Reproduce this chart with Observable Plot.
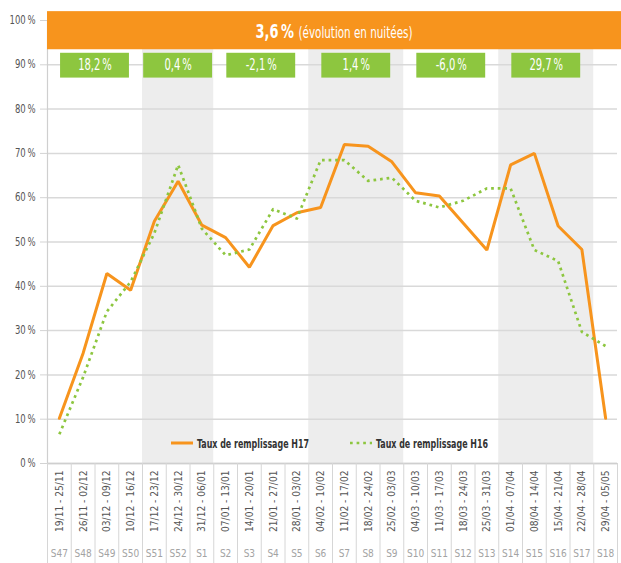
<!DOCTYPE html>
<html>
<head>
<meta charset="utf-8">
<script src="https://cdn.jsdelivr.net/npm/d3@7"></script>
<script src="https://cdn.jsdelivr.net/npm/@observablehq/plot@0.6"></script>
<style>
  body { margin: 0; background: #fff; }
  #chart { position: relative; width: 621px; height: 563px; }
</style>
</head>
<body>
<div id="chart"></div>
<script>
// ---- data ----
const dates = ["19/11 - 25/11", "26/11 - 02/12", "03/12 - 09/12", "10/12 - 16/12", "17/12 - 23/12", "24/12 - 30/12",
  "31/12 - 06/01", "07/01 - 13/01", "14/01 - 20/01", "21/01 - 27/01", "28/01 - 03/02", "04/02 - 10/02",
  "11/02 - 17/02", "18/02 - 24/02", "25/02 - 03/03", "04/03 - 10/03", "11/03 - 17/03", "18/03 - 24/03",
  "25/03 - 31/03", "01/04 - 07/04", "08/04 - 14/04", "15/04 - 21/04", "22/04 - 28/04", "29/04 - 05/05"];
const weeks = ["S47", "S48", "S49", "S50", "S51", "S52", "S1", "S2", "S3", "S4", "S5", "S6",
  "S7", "S8", "S9", "S10", "S11", "S12", "S13", "S14", "S15", "S16", "S17", "S18"];
const h17 = [10.2, 24.9, 42.9, 39.1, 54.7, 63.7, 53.8, 51.0, 44.3, 53.7, 56.6, 57.8,
  72.0, 71.6, 68.1, 61.1, 60.4, 54.3, 48.2, 67.4, 70.0, 53.6, 48.3, 10.2];
const h16 = [6.6, 19.5, 34.3, 41.0, 52.0, 67.4, 53.0, 47.0, 48.3, 57.4, 55.3, 68.5,
  68.5, 63.8, 64.5, 59.3, 57.8, 59.3, 62.1, 62.1, 48.2, 45.7, 29.7, 26.5];
const groupLabels = ["18,2\u2009%", "0,4\u2009%", "-2,1\u2009%", "1,4\u2009%", "-6,0\u2009%", "29,7\u2009%"];
const groupStart = ["S47", "S51", "S2", "S6", "S10", "S14"];
const groupEnd = ["S50", "S1", "S5", "S9", "S13", "S17"];
const totalLabel = "3,6\u2009%";
const totalNote = "(évolution en nuitées)";
const yTicks = [0, 10, 20, 30, 40, 50, 60, 70, 80, 90, 100];
const seriesNames = ["Taux de remplissage H17", "Taux de remplissage H16"];

// ---- build ----
const ORANGE = "#f7941d", GREEN = "#8dc63f";
const idx = d3.range(dates.length);
const bounds = d3.range(dates.length + 1).map(i => i - 0.5);
const rows = idx.map(i => ({i, h17: h17[i], h16: h16[i]}));
const groups = groupLabels.map((label, k) => {
  const a = weeks.indexOf(groupStart[k]), b = weeks.indexOf(groupEnd[k]);
  return {label, a, b, mid: (a + b) / 2, shaded: k % 2 === 1};
});
const font = '"DejaVu Sans Condensed", "Liberation Sans Narrow", "Roboto", sans-serif';

const chart = Plot.plot({
  width: 621, height: 563,
  marginLeft: 47, marginRight: 4, marginTop: 20, marginBottom: 100,
  style: {fontFamily: font, background: "white"},
  x: {type: "linear", domain: [-0.5, dates.length - 0.5]},
  y: {domain: [0, 100]},
  marks: [
    Plot.rect(groups.filter(g => g.shaded), {x1: g => g.a - 0.5, x2: g => g.b + 0.5, fill: "#ededed"}),
    Plot.gridY(yTicks, {stroke: "#d9d9d9", strokeOpacity: 1, strokeWidth: 1.5}),
    Plot.axisY(yTicks, {tickFormat: d => d + "\u2009%", tickSize: 7, tickPadding: 5, stroke: "#d3d3d3", fill: "#555", fontSize: 11.5, label: null}),
    Plot.ruleX([-0.5], {stroke: "#cfcfcf", strokeWidth: 1.2}),
    Plot.ruleY([0], {stroke: "#cfcfcf", strokeWidth: 1.5}),
    Plot.axisX(bounds, {tickSize: 100, tickFormat: () => "", stroke: "#d6d6d6", label: null}),
    Plot.axisX(idx, {tickFormat: i => dates[i], tickRotate: -90, tickSize: 0, tickPadding: 7, fontSize: 11, fill: "#555", label: null}),
    Plot.axisX(idx, {tickFormat: i => weeks[i], tickSize: 0, tickPadding: 86, fontSize: 10, fill: "#a3a3a3", label: null}),
    Plot.line(rows, {x: "i", y: "h17", stroke: ORANGE, strokeWidth: 3, strokeLinejoin: "miter"}),
    Plot.line(rows, {x: "i", y: "h16", stroke: GREEN, strokeWidth: 2.7, strokeDasharray: "2.7 3.9", strokeLinecap: "butt"}),
    Plot.rect([totalLabel], {x1: -0.5, x2: dates.length - 0.5, y1: 93.4, y2: 102, fill: ORANGE, insetRight: -4}),
    Plot.rect(groups, {x1: g => g.mid - 1.45, x2: g => g.mid + 1.45, y1: 87, y2: 92.6, fill: GREEN}),
    Plot.text(groups, {x: "mid", y: 89.8, text: "label", fill: "white", fontSize: 15})
  ]
});
document.getElementById("chart").appendChild(chart);

const svg = d3.select(chart);
// emulate the condensed typeface of the original
function condense(sel, k) {
  sel.each(function () {
    const len = this.getComputedTextLength();
    if (len > 0) { this.setAttribute("textLength", (len * k).toFixed(1)); this.setAttribute("lengthAdjust", "spacingAndGlyphs"); }
  });
}
condense(svg.selectAll("text").filter(function () { return groupLabels.includes(this.textContent); }), 0.74);
condense(svg.selectAll("text").filter(function () { return /^\d+\u2009%$/.test(this.textContent); }), 0.82);
condense(svg.selectAll("text").filter(function () { return dates.includes(this.textContent); }), 0.92);

// banner text: one text element with two styled parts, horizontally condensed by a transform
const xs = chart.scale("x");
const bx = (xs.apply(-0.5) + 621) / 2;
const banner = svg.append("text").attr("transform", `translate(${bx},38.3) scale(0.72,1)`).attr("fill", "white")
  .attr("font-family", font).attr("text-anchor", "middle");
banner.append("tspan").attr("font-size", 20).attr("font-weight", "bold").text(totalLabel + " ");
banner.append("tspan").attr("font-size", 16).text(totalNote);

// legend inside the plot
const ly = 443;
function legendItem(x, name, color, dashed) {
  const g = svg.append("g");
  g.append("line").attr("x1", x).attr("x2", x + 22).attr("y1", ly).attr("y2", ly)
    .attr("stroke", color).attr("stroke-width", dashed ? 2.7 : 3)
    .attr("stroke-dasharray", dashed ? "2.7 3.9" : null);
  g.append("text").attr("x", x + 26).attr("y", ly + 4.5).attr("fill", "#333").attr("text-anchor", "start")
    .attr("font-family", font).attr("font-size", 12.5).attr("font-weight", "bold").text(name)
    .attr("textLength", 112).attr("lengthAdjust", "spacingAndGlyphs");
}
legendItem(171, seriesNames[0], ORANGE, false);
legendItem(350, seriesNames[1], GREEN, true);
</script>
</body>
</html>
